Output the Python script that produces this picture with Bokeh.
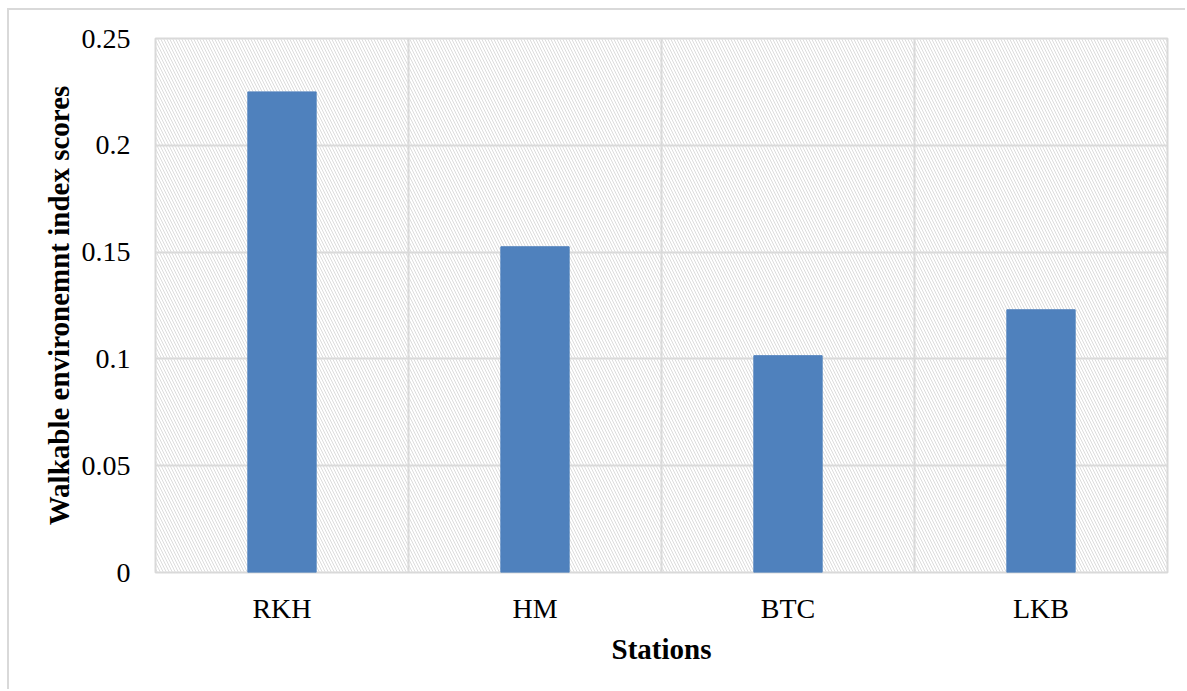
from bokeh.plotting import figure
from bokeh.models import BoxAnnotation, FixedTicker, ColumnDataSource
from bokeh.embed import file_html
from bokeh.resources import INLINE

stations = ["RKH", "HM", "BTC", "LKB"]
scores = [0.225, 0.1525, 0.1015, 0.123]
y_ticks = [0, 0.05, 0.1, 0.15, 0.2, 0.25]
y_tick_labels = ["0", "0.05", "0.1", "0.15", "0.2", "0.25"]

xpos = [i + 0.5 for i in range(len(stations))]
src = ColumnDataSource(dict(x=xpos, top=scores, name=stations))

p = figure(width=1178, height=681, output_backend="svg", toolbar_location=None,
           x_range=(0, len(stations)), y_range=(0, 0.25),
           min_border_left=146, min_border_right=20, min_border_top=28, min_border_bottom=119)

p.styles = {"border-top": "2px solid #d9d9d9", "border-left": "2px solid #d9d9d9",
            "margin-left": "7px", "margin-top": "8px"}

p.background_fill_color = "white"
p.border_fill_color = "white"
p.outline_line_color = "#d9d9d9"
p.outline_line_width = 2

# hatched plot area
p.add_layout(BoxAnnotation(fill_alpha=0, line_alpha=0, hatch_pattern="\\",
                           hatch_color="#dcdcdc", hatch_scale=6, hatch_weight=1,
                           level="underlay"))

p.vbar(x="x", top="top", width=0.27, bottom=0, source=src,
       fill_color="#4F81BD", line_color="#4F81BD")

p.ygrid.ticker = FixedTicker(ticks=y_ticks)
p.ygrid.grid_line_color = "#d9d9d9"
p.ygrid.grid_line_width = 2
p.xgrid.ticker = FixedTicker(ticks=list(range(1, len(stations))))
p.xgrid.grid_line_color = "#d9d9d9"
p.xgrid.grid_line_width = 2

p.xaxis.ticker = FixedTicker(ticks=xpos)
p.xaxis.major_label_overrides = {x: s for x, s in zip(xpos, stations)}
p.yaxis.ticker = FixedTicker(ticks=y_ticks)
p.yaxis.major_label_overrides = {t: l for t, l in zip(y_ticks, y_tick_labels)}

for ax in (p.xaxis, p.yaxis):
    ax.axis_line_color = None
    ax.major_tick_line_color = None
    ax.minor_tick_line_color = None
    ax.major_label_text_font = "Liberation Serif"
    ax.major_label_text_font_size = "28px"
    ax.major_label_text_color = "black"
    ax.axis_label_text_font = "Liberation Serif"
    ax.axis_label_text_font_style = "bold"
    ax.axis_label_text_font_size = "29px"
    ax.axis_label_text_color = "black"

p.xaxis.axis_label = "Stations"
p.yaxis.axis_label = "Walkable environemnt index scores"
p.xaxis.major_label_standoff = 14
p.yaxis.major_label_standoff = 19
p.xaxis.axis_label_standoff = 6
p.yaxis.axis_label_standoff = 4

open("out.html", "w").write(file_html(p, INLINE))
